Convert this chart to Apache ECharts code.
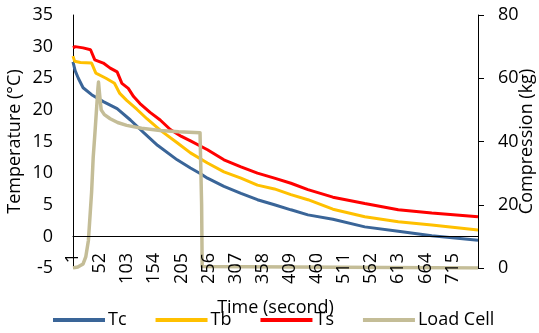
<!DOCTYPE html>
<html>
<head>
<meta charset="utf-8">
<script src="https://cdn.jsdelivr.net/npm/echarts@6/dist/echarts.min.js"></script>
<style>
  html, body { margin: 0; padding: 0; background: #fff; }
  #chart { width: 539px; height: 333px; }
</style>
</head>
<body>
<div id="chart"></div>
<script>
// Time axis tick positions (seconds)
const timeTicks = [1, 52, 103, 154, 205, 256, 307, 358, 409, 460, 511, 562, 613, 664, 715];

// Core temperature Tc [time s, °C]
const tcData = [
  [1, 27.6], [5, 26.2], [11, 25.0], [20, 23.5], [36, 22.4], [58, 21.3], [84, 20.2],
  [109, 18.4], [134, 16.4], [160, 14.4], [197, 12.1], [222, 10.8], [241, 9.9],
  [254, 9.2], [285, 7.9], [317, 6.8], [348, 5.8], [380, 5.0], [411, 4.2], [443, 3.4],
  [490, 2.7], [550, 1.5], [613, 0.8], [676, 0.1], [763, -0.6]
];

// Body temperature Tb [time s, °C]
const tbData = [
  [1, 28.5], [4, 27.7], [15, 27.5], [36, 27.4], [44, 25.8], [63, 25.0], [79, 24.2],
  [89, 22.6], [102, 21.5], [121, 20.1], [140, 18.6], [165, 16.8], [197, 14.8],
  [222, 13.2], [254, 11.6], [285, 10.2], [317, 9.2], [348, 8.1], [380, 7.5],
  [411, 6.6], [443, 5.8], [490, 4.3], [550, 3.1], [613, 2.3], [676, 1.8], [763, 1.0]
];

// Surface temperature Ts [time s, °C]
const tsData = [
  [1, 29.8], [5, 30.0], [20, 29.8], [34, 29.5], [42, 27.9], [58, 27.4], [71, 26.6],
  [84, 26.0], [93, 24.2], [105, 23.4], [115, 22.1], [127, 21.0], [146, 19.6],
  [165, 18.4], [184, 16.9], [205, 15.8], [222, 15.1], [254, 13.7], [285, 12.1],
  [317, 11.0], [348, 10.0], [380, 9.2], [411, 8.4], [443, 7.4], [490, 6.2],
  [550, 5.2], [613, 4.2], [676, 3.7], [763, 3.1]
];

// Load cell compression [time s, kg]
const loadData = [
  [1, 0], [10, 0.3], [20, 1.3], [25, 3.5], [30, 8.7], [36, 24], [39, 35], [42, 42],
  [46, 52], [48, 57], [49, 58.8], [51, 55], [54, 50], [60, 48.5], [71, 47.2],
  [85, 46.0], [102, 45.1], [130, 44.2], [165, 43.5], [200, 43.1], [240, 42.8],
  [242, 42.3], [243, 20], [244, 0.5], [245, 0], [763, 0]
];

const FONT = 'Open Sans';
const TXT = '#000';

const chart = echarts.init(document.getElementById('chart'), null, { renderer: 'canvas' });

chart.setOption({
  animation: false,
  backgroundColor: '#fff',
  textStyle: { fontFamily: FONT, color: TXT },
  grid: { left: 73, right: 61, top: 15, bottom: 65, containLabel: false, outerBoundsMode: 'none' },
  legend: {
    top: 306,
    left: 48,
    icon: 'rect',
    itemWidth: 52,
    itemHeight: 4,
    itemGap: 29,
    textStyle: { fontFamily: FONT, fontSize: 18, color: TXT, padding: [0, 0, 0, -2] },
    data: ['Tc', 'Tb', 'Ts', 'Load Cell']
  },
  xAxis: {
    type: 'value',
    z: 10,
    min: 1,
    max: 763,
    name: 'Time (second)',
    nameLocation: 'middle',
    nameGap: 31,
    nameTextStyle: { fontFamily: FONT, fontSize: 18, color: TXT },
    axisLine: { onZero: true, lineStyle: { color: '#000', width: 1 } },
    axisTick: { show: false },
    splitLine: { show: false },
    axisLabel: {
      customValues: timeTicks,
      rotate: 90,
      margin: -15,
      fontFamily: FONT,
      fontSize: 18,
      color: TXT
    }
  },
  yAxis: [
    {
      type: 'value',
      min: -5,
      max: 35,
      interval: 5,
      name: 'Temperature (°C)',
      nameLocation: 'middle',
      nameGap: 49,
      nameRotate: 90,
      nameMoveOverlap: false,
      nameTextStyle: { fontFamily: FONT, fontSize: 18, color: TXT },
      axisLine: { show: true, lineStyle: { color: '#000', width: 1 } },
      axisTick: { show: false },
      splitLine: { show: false },
      axisLabel: { margin: 20, fontFamily: FONT, fontSize: 18, color: TXT }
    },
    {
      type: 'value',
      min: 0,
      max: 80,
      interval: 20,
      position: 'right',
      name: 'Compression (kg)',
      nameLocation: 'middle',
      nameGap: 40,
      nameRotate: 90,
      nameMoveOverlap: false,
      nameTextStyle: { fontFamily: FONT, fontSize: 18, color: TXT },
      axisLine: { show: true, onZero: false, lineStyle: { color: '#000', width: 1 } },
      axisTick: { show: true, length: 6, lineStyle: { color: '#000' } },
      splitLine: { show: false },
      axisLabel: { margin: 20, fontFamily: FONT, fontSize: 18, color: TXT }
    }
  ],
  series: [
    {
      name: 'Tc', type: 'line', yAxisIndex: 0, data: tcData,
      showSymbol: false, symbol: 'none',
      lineStyle: { color: '#3A6598', width: 3 }, itemStyle: { color: '#3A6598' }
    },
    {
      name: 'Tb', type: 'line', yAxisIndex: 0, data: tbData,
      showSymbol: false, symbol: 'none',
      lineStyle: { color: '#FFC000', width: 3 }, itemStyle: { color: '#FFC000' }
    },
    {
      name: 'Ts', type: 'line', yAxisIndex: 0, data: tsData,
      showSymbol: false, symbol: 'none',
      lineStyle: { color: '#FF0000', width: 3 }, itemStyle: { color: '#FF0000' }
    },
    {
      name: 'Load Cell', type: 'line', yAxisIndex: 1, data: loadData,
      showSymbol: false, symbol: 'none',
      lineStyle: { color: '#C4BD97', width: 3.5, join: 'round' }, itemStyle: { color: '#C4BD97' }
    }
  ]
});
</script>
</body>
</html>
